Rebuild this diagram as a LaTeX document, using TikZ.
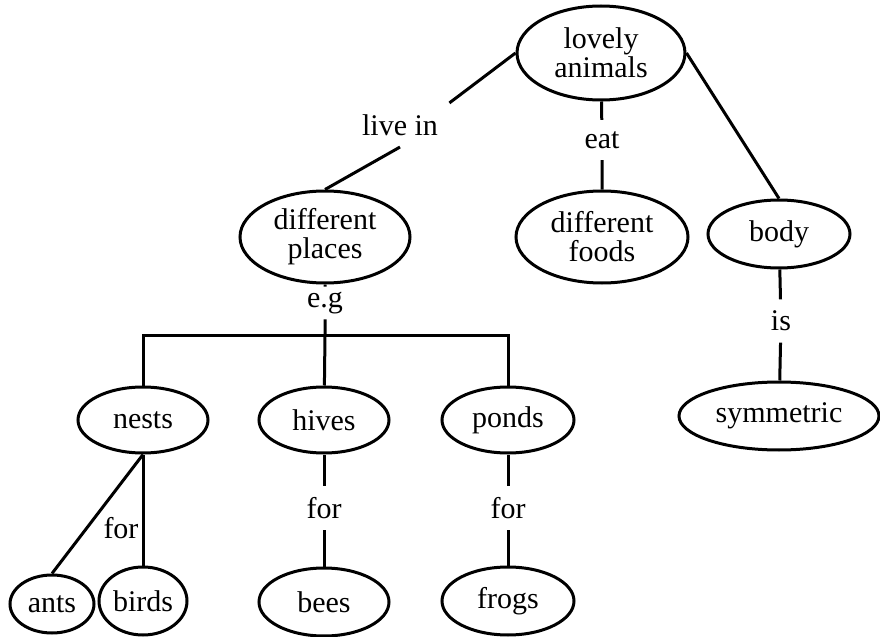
\documentclass[tikz,border=0pt]{standalone}
\usepackage{fontspec}
\setmainfont{Liberation Serif}
\usetikzlibrary{shapes.geometric}

\begin{document}
\begin{tikzpicture}[x=0.5pt,y=-0.5pt,line width=1.5pt,
    font=\fontsize{15}{14.5}\selectfont,
    concept/.style={ellipse,draw,inner sep=0pt,align=center},
    link/.style={inner sep=5pt}]
  \useasboundingbox (0,0) rectangle (880,637);
  % concepts
  \node[concept,minimum width=84pt,minimum height=47pt] (lovely) at (601,53) {lovely\\animals};
  \node[concept,minimum width=85pt,minimum height=46pt] (places) at (325,237) {different\\places};
  \node[concept,minimum width=86pt,minimum height=46pt] (foods) at (602,237) {different\\foods};
  \node[concept,minimum width=71pt,minimum height=34pt] (body) at (779,234) {body};
  \node[concept,minimum width=65pt,minimum height=33pt] (nests) at (143,420) {nests};
  \node[concept,minimum width=65pt,minimum height=33pt] (hives) at (324,420) {hives};
  \node[concept,minimum width=66pt,minimum height=33pt] (ponds) at (508,420) {ponds};
  \node[concept,minimum width=100pt,minimum height=34pt] (symm) at (779,416) {symmetric};
  \node[concept,minimum width=42pt,minimum height=29pt] (ants) at (52,604) {ants};
  \node[concept,minimum width=44pt,minimum height=34pt] (birds) at (143,601) {birds};
  \node[concept,minimum width=65pt,minimum height=34pt] (bees) at (324,602) {bees};
  \node[concept,minimum width=66pt,minimum height=34pt] (frogs) at (508,601) {frogs};
  % linking words
  \node[link] (livein) at (400,125) {live in};
  \node[link] (eat) at (602,140) {eat};
  \node[link,inner sep=2pt] (eg) at (325,303) {e.g};
  \node[link] (is) at (781,321) {is};
  \node[link] (forhives) at (324,508) {for};
  \node[link] (forponds) at (508,508) {for};
  \node[link] (fornests) at (121,528) {for};
  \coordinate (bar) at (325,335);
  % connectors
  \draw (lovely.west) -- (livein.north east);
  \draw (livein.south) -- (places.north);
  \draw (lovely) -- (eat) -- (foods);
  \draw (lovely.east) -- (body.north);
  \draw (body) -- (is) -- (symm);
  \draw (places) -- (eg) -- (bar) -- (hives);
  \draw (nests.north) |- (bar) -| (ponds.north);
  \draw (nests.south) -- (ants.north);
  \draw (nests.south) -- (birds.north);
  \draw (hives) -- (forhives) -- (bees);
  \draw (ponds) -- (forponds) -- (frogs);
\end{tikzpicture}
\end{document}
